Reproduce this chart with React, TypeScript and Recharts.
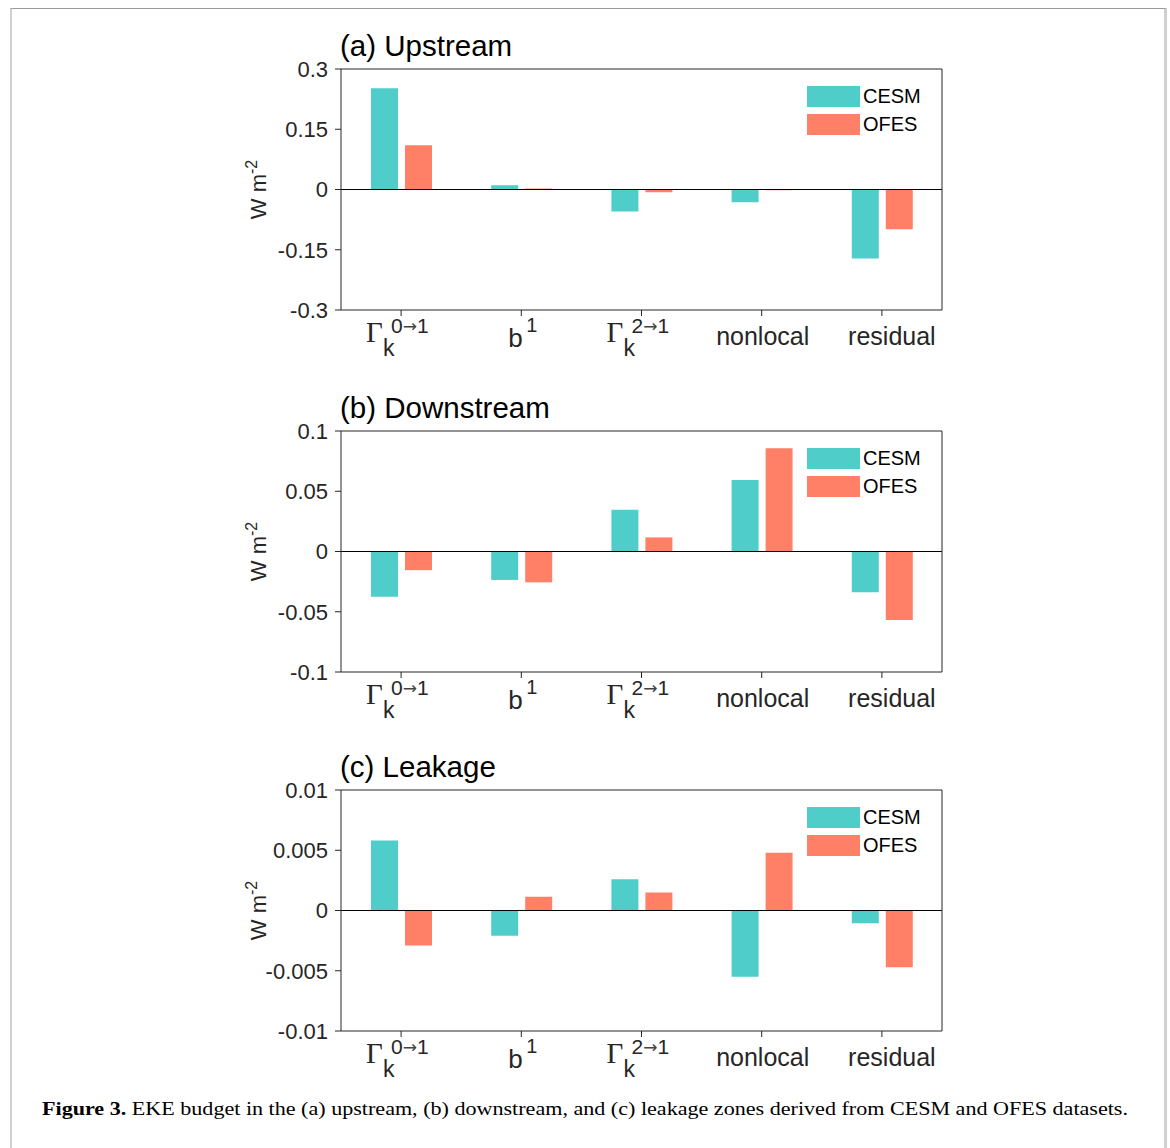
import React from 'react';
import { BarChart, Bar, XAxis, YAxis, ReferenceLine, Legend } from 'recharts';

// categories on the x axis (rendered with a custom tick)
const categories = ['gamma01', 'b1', 'gamma21', 'nonlocal', 'residual'];
const seriesNames = ['CESM', 'OFES'];

// (a) upstream
const upstreamCESM = [0.252, 0.0105, -0.055, -0.032, -0.172];
const upstreamOFES = [0.11, 0.0025, -0.007, -0.002, -0.099];
const upstreamTicks = [-0.3, -0.15, 0, 0.15, 0.3];

// (b) downstream
const downstreamCESM = [-0.0375, -0.0236, 0.0347, 0.0594, -0.0339];
const downstreamOFES = [-0.0155, -0.0256, 0.0117, 0.0856, -0.0569];
const downstreamTicks = [-0.1, -0.05, 0, 0.05, 0.1];

// (c) leakage
const leakageCESM = [0.0058, -0.0021, 0.0026, -0.0055, -0.00105];
const leakageOFES = [-0.0029, 0.00114, 0.0015, 0.0048, -0.0047];
const leakageTicks = [-0.01, -0.005, 0, 0.005, 0.01];

const panelTitles = ['(a) Upstream', '(b) Downstream', '(c) Leakage'];

const CESM_COLOR = '#4ECDC9';
const OFES_COLOR = '#FF8066';
const INK = '#262626';
const SANS = '"Liberation Sans", Arial, Helvetica, sans-serif';
const SERIF = '"Liberation Serif", "Times New Roman", serif';

const PANEL_TOPS = [0, 362, 721];
const CHART_W = 1170;
const CHART_H = 360;
const PLOT_TOP = 69;
const PLOT_H = 241;

function buildRows(cesm: number[], ofes: number[]) {
  return categories.map((name, i) => ({ name, CESM: cesm[i], OFES: ofes[i] }));
}

const CategoryTick = ({ x, y, payload }: any) => {
  const key = payload.value as string;
  if (key === 'gamma01' || key === 'gamma21') {
    return (
      <g transform={`translate(${x},${y})`}>
        <text x={-35} y={26} fontFamily={SERIF} fontSize={29} fill={INK}>Γ</text>
        <text x={-18} y={40} fontFamily={SANS} fontSize={23} fill={INK}>k</text>
        <text x={-10} y={17} fontFamily={SANS} fontSize={21} fill={INK}>
          {key === 'gamma01' ? '0' : '2'}
          <tspan fontFamily='"DejaVu Sans", sans-serif' fontSize={17} fill="#444" dy={-1}>→</tspan>
          <tspan dy={1}>1</tspan>
        </text>
      </g>
    );
  }
  if (key === 'b1') {
    return (
      <g transform={`translate(${x},${y})`}>
        <text x={-13} y={31} fontFamily={SANS} fontSize={26} fill={INK}>b</text>
        <text x={5} y={16} fontFamily={SANS} fontSize={20} fill={INK}>1</text>
      </g>
    );
  }
  return (
    <text x={x + (key === 'residual' ? 10 : 1)} y={y + 29} textAnchor="middle" fontFamily={SANS} fontSize={25} fill={INK}>
      {key}
    </text>
  );
};

const LegendBox = ({ payload }: any) => (
  <div style={{ fontFamily: SANS, fontSize: 20, color: '#000' }}>
    {(payload || []).map((p: any) => (
      <div key={p.value} style={{ display: 'flex', alignItems: 'center', height: 21, marginBottom: 7 }}>
        <span style={{ width: 53, height: 21, background: p.color, display: 'inline-block' }} />
        <span style={{ marginLeft: 3, lineHeight: '21px' }}>{p.value}</span>
      </div>
    ))}
  </div>
);

function Panel({ cesm, ofes, ticks }: { cesm: number[]; ofes: number[]; ticks: number[] }) {
  const rows = buildRows(cesm, ofes);
  const domain = [ticks[0], ticks[ticks.length - 1]];
  return (
    <BarChart
      width={CHART_W}
      height={CHART_H}
      data={rows}
      margin={{ top: PLOT_TOP - 1, right: 227, bottom: CHART_H - PLOT_TOP - PLOT_H - 40, left: 281 }}
      barGap={7}
      barSize={27}
    >
      <XAxis
        xAxisId="bottom"
        dataKey="name"
        height={40}
        interval={0}
        tickSize={6}
        tickMargin={0}
        tick={<CategoryTick />}
        axisLine={{ stroke: INK }}
        tickLine={{ stroke: INK }}
      />
      <XAxis
        xAxisId="top"
        orientation="top"
        dataKey="name"
        height={1}
        interval={0}
        tickSize={6}
        tick={false}
        axisLine={{ stroke: INK }}
        tickLine={{ stroke: INK }}
      />
      <YAxis
        yAxisId="left"
        width={60}
        type="number"
        domain={domain}
        ticks={ticks}
        interval={0}
        allowDataOverflow
        tickSize={6}
        tickMargin={7}
        tickFormatter={(v: number) => String(v)}
        tick={{ fill: INK, fontFamily: SANS, fontSize: 22 }}
        axisLine={{ stroke: INK }}
        tickLine={{ stroke: INK }}
      />
      <YAxis
        yAxisId="right"
        orientation="right"
        width={1}
        type="number"
        domain={domain}
        ticks={ticks}
        interval={0}
        allowDataOverflow
        tickSize={6}
        tick={false}
        axisLine={{ stroke: INK }}
        tickLine={{ stroke: INK }}
      />
      <ReferenceLine xAxisId="bottom" yAxisId="left" y={0} stroke="#000" strokeWidth={1} />
      <Legend
        layout="vertical"
        align="center"
        verticalAlign="middle"
        content={<LegendBox />}
        wrapperStyle={{ left: 807, top: PLOT_TOP + 17, width: 130, height: 60 }}
      />
      <Bar xAxisId="bottom" yAxisId="left" dataKey="CESM" name={seriesNames[0]} fill={CESM_COLOR} isAnimationActive={false} />
      <Bar xAxisId="bottom" yAxisId="left" dataKey="OFES" name={seriesNames[1]} fill={OFES_COLOR} isAnimationActive={false} />
    </BarChart>
  );
}

export default function App() {
  const panels = [
    { cesm: upstreamCESM, ofes: upstreamOFES, ticks: upstreamTicks },
    { cesm: downstreamCESM, ofes: downstreamOFES, ticks: downstreamTicks },
    { cesm: leakageCESM, ofes: leakageOFES, ticks: leakageTicks },
  ];
  return (
    <div style={{ position: 'absolute', left: 0, top: 0, width: 1170, height: 1148, background: '#fff', overflow: 'hidden' }}>
      <div
        style={{
          position: 'absolute',
          left: 10,
          top: 8,
          width: 1157,
          height: 1140,
          boxSizing: 'border-box',
          borderTop: '1px solid #9a9a9a',
          borderLeft: '2px solid #d0d0d0',
          borderRight: '3px solid #d0d0d0',
        }}
      />
      {panels.map((p, i) => (
        <div key={i} style={{ position: 'absolute', left: 0, top: PANEL_TOPS[i] }}>
          <Panel cesm={p.cesm} ofes={p.ofes} ticks={p.ticks} />
        </div>
      ))}
      <svg width={1170} height={1148} style={{ position: 'absolute', left: 0, top: 0, pointerEvents: 'none' }}>
        {PANEL_TOPS.map((t, i) => (
          <g key={i}>
            <text x={340} y={t + 56} fontFamily={SANS} fontSize={29.5} fill="#000">{panelTitles[i]}</text>
            <text
              transform={`translate(266,${t + PLOT_TOP + PLOT_H / 2}) rotate(-90)`}
              textAnchor="middle"
              fontFamily={SANS}
              fontSize={22}
              fill={INK}
            >
              W m<tspan dy={-9} fontSize={16}>-2</tspan>
            </text>
          </g>
        ))}
        <text x={42} y={1115} fontFamily={SERIF} fontSize={19} fill="#000" textLength={1086} lengthAdjust="spacingAndGlyphs">
          <tspan fontWeight="bold">Figure 3.</tspan> EKE budget in the (a) upstream, (b) downstream, and (c) leakage zones derived from CESM and OFES datasets.
        </text>
      </svg>
    </div>
  );
}
